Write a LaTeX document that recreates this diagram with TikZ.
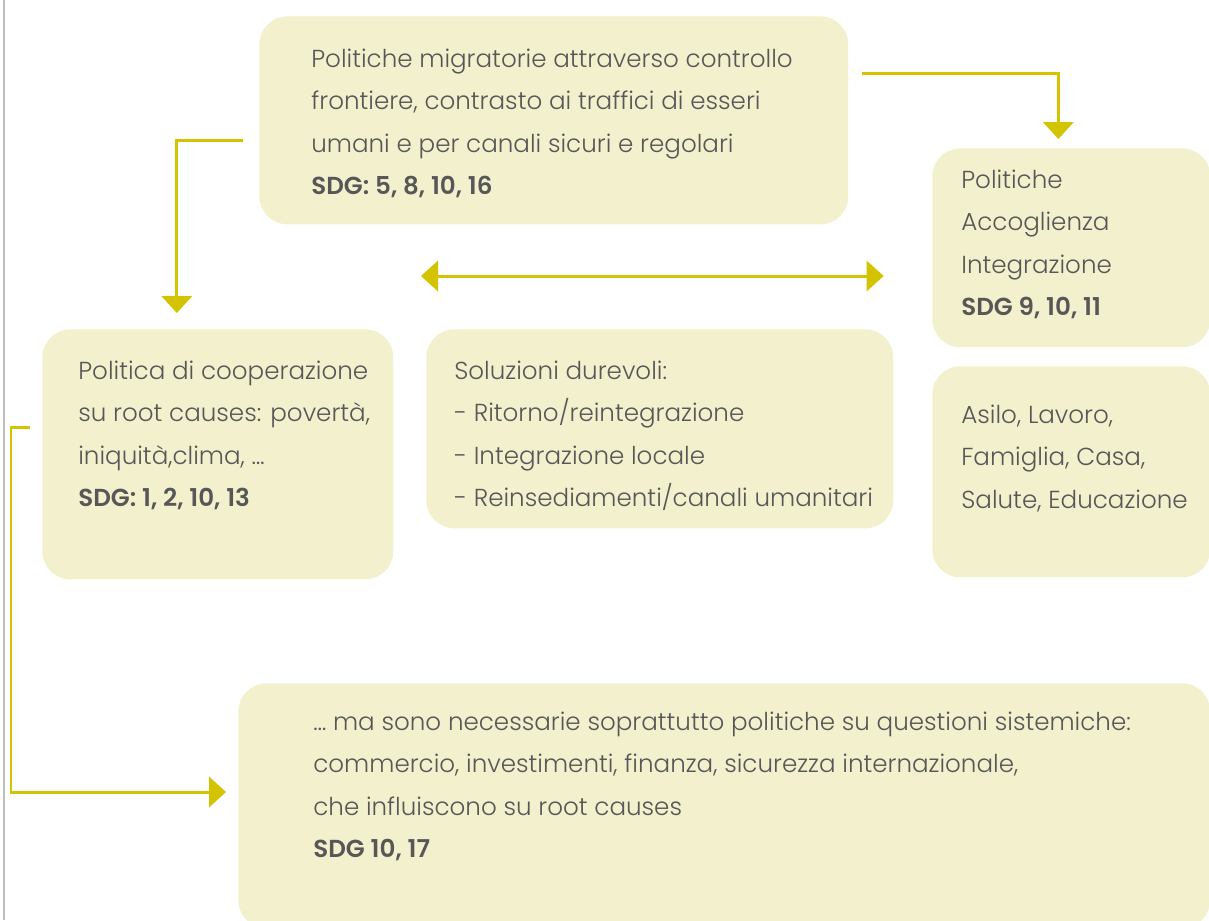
\documentclass[tikz,border=0pt]{standalone}
\usepackage{fontspec}
\setmainfont{Poppins}[UprightFont=* Light, BoldFont=* SemiBold]
\usetikzlibrary{arrows.meta,calc,positioning}
\definecolor{boxfill}{HTML}{F2F0CD}
\definecolor{linkcol}{HTML}{D3C300}
\definecolor{textcol}{HTML}{575757}
\definecolor{edgegray}{HTML}{BEBEBE}
\newcommand{\boxlines}[1]{\begin{tabular}[t]{@{}l@{}}#1\end{tabular}}

\begin{document}
\begin{tikzpicture}[x=0.02cm,y=-0.02cm,
  >={Triangle[length=0.01pt,width=0.01pt,line width=0pt,sep=0.12cm]Triangle[length=0.34cm,width=0.62cm,line width=0pt]},
  box/.style={fill=boxfill,rounded corners=0.56cm,anchor=north west,inner sep=0pt},
  txt/.style={anchor=base west,inner sep=0pt,text=textcol,font=\fontsize{14}{24.2}\selectfont},
  link/.style={draw=linkcol,line width=0.06cm}]
\useasboundingbox (0,0) rectangle (1209,920);
\draw[edgegray,line width=0.05cm] (4,0) -- (4,920);

% boxes
\node[box,minimum width=11.78cm,minimum height=4.16cm] (migr) at (259,16) {};
\node[box,minimum width=5.56cm,minimum height=3.98cm] (accog) at (932,148) {};
\node[box,minimum width=7.02cm,minimum height=5.0cm] (coop) at (42,329) {};
\node[box,minimum width=9.34cm,minimum height=3.98cm] (durev) at (426,329) {};
\node[box,minimum width=5.56cm,minimum height=4.22cm] (diritti) at (932,366) {};
\node[box,minimum width=19.44cm,minimum height=4.9cm] (sistem) at (238,683) {};

% texts
\node[txt] (migrtext) at ($(migr.north west)+(52,51)$) {\boxlines{%
  Politiche migratorie attraverso controllo\\
  frontiere, contrasto ai traffici di esseri\\
  umani e per canali sicuri e regolari\\
  \textbf{SDG: 5, 8, 10, 16}}};
\node[txt] (accogtext) at ($(accog.north west)+(29,40)$) {\boxlines{%
  Politiche\\
  Accoglienza\\
  Integrazione\\
  \textbf{SDG 9, 10, 11}}};
\node[txt] (cooptext) at ($(coop.north west)+(36,50)$) {\boxlines{%
  Politica di cooperazione\\
  su root causes: povertà,\\
  iniquità,clima, \dots\\
  \textbf{SDG: 1, 2, 10, 13}}};
\node[txt] (durevtext) at ($(durev.north west)+(28,50)$) {\boxlines{%
  Soluzioni durevoli:\\
  - Ritorno/reintegrazione\\
  - Integrazione locale\\
  - Reinsediamenti/canali umanitari}};
\node[txt] (dirittitext) at ($(diritti.north west)+(29,57)$) {\boxlines{%
  Asilo, Lavoro,\\
  Famiglia, Casa,\\
  Salute, Educazione}};
\node[txt] (sistemtext) at ($(sistem.north west)+(75,47)$) {\boxlines{%
  \dots\ ma sono necessarie soprattutto politiche su questioni sistemiche:\\
  commercio, investimenti, finanza, sicurezza internazionale,\\
  che influiscono su root causes\\
  \textbf{SDG 10, 17}}};

% connectors
\draw[link,->] ($(migr.west)+(-16,20)$) -| ($(coop.north)+(-41,-16)$);
\draw[link,->] ($(migr.east)+(13,-47)$) -| ($(accog.north)+(-13,-9)$);
\draw[link,<->] ($(durev.north west)+(-5,-53)$) -- ($(durev.north east)+(-10,-53)$);
\draw[link,->] ($(coop.west)+(-12,-27)$) -- ++(-19,0) |- ($(sistem.north west)+(-12,109)$);
\end{tikzpicture}
\end{document}
